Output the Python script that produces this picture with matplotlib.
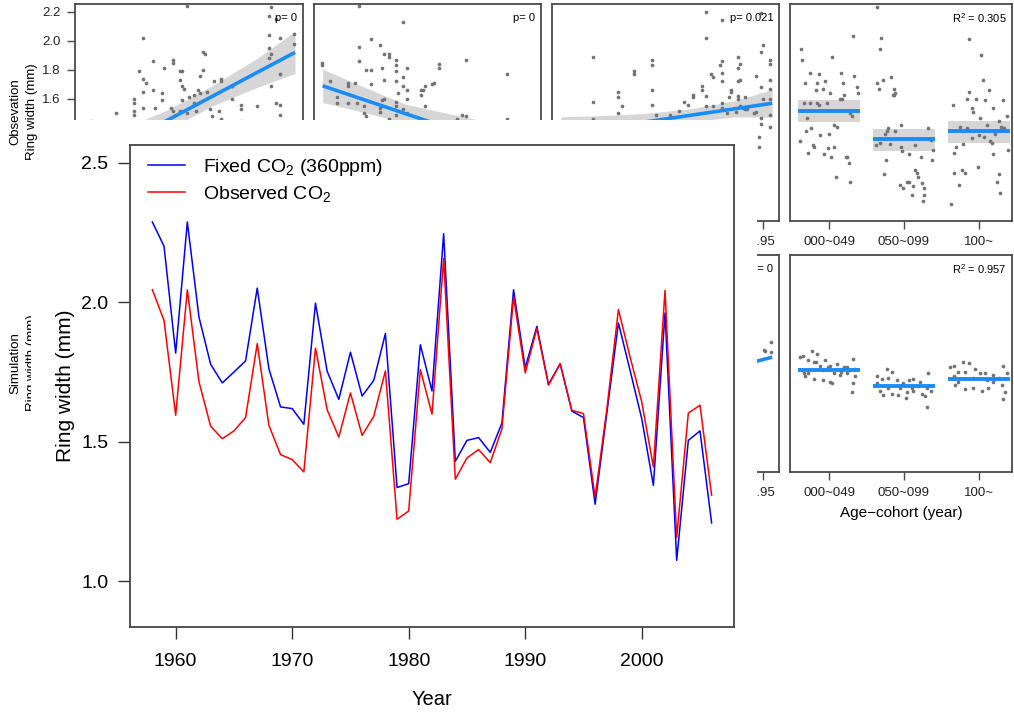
import matplotlib.pyplot as plt
from matplotlib.patches import Rectangle

plt.rcParams['font.family'] = ['Liberation Sans', 'DejaVu Sans']
plt.rcParams['mathtext.fontset'] = 'custom'
plt.rcParams['mathtext.rm'] = 'Liberation Sans'
plt.rcParams['mathtext.it'] = 'Liberation Sans:italic'

# ---- main chart data ----
years = list(range(1958, 2007))
fixed_co2 = [2.288, 2.201, 1.818, 2.288, 1.947, 1.778, 1.711, 1.750, 1.790, 2.051,
             1.762, 1.625, 1.619, 1.563, 1.997, 1.753, 1.652, 1.821, 1.664, 1.720,
             1.888, 1.336, 1.350, 1.848, 1.682, 2.246, 1.430, 1.505, 1.515, 1.462,
             1.567, 2.045, 1.765, 1.914, 1.706, 1.780, 1.610, 1.587, 1.276, 1.601,
             1.926, 1.756, 1.583, 1.344, 1.962, 1.075, 1.505, 1.539, 1.209]
observed_co2 = [2.045, 1.935, 1.595, 2.045, 1.715, 1.556, 1.511, 1.539, 1.587, 1.852,
                1.559, 1.454, 1.436, 1.392, 1.836, 1.615, 1.517, 1.675, 1.523, 1.591,
                1.754, 1.222, 1.252, 1.759, 1.599, 2.157, 1.366, 1.442, 1.472, 1.425,
                1.546, 2.019, 1.747, 1.906, 1.703, 1.780, 1.613, 1.601, 1.302, 1.615,
                1.974, 1.804, 1.643, 1.410, 2.043, 1.157, 1.603, 1.631, 1.308]

# ---- background figure data (only the parts that show) ----
p1_x = [0.49, 0.86, 0.85, 0.88, 0.96, 0.96, 0.85, 0.90, 0.30, 0.28, 0.30, 0.31, 0.30, 0.34,
        0.39, 0.43, 0.43, 0.46, 0.47, 0.46, 0.47, 0.48, 0.56, 0.57, 0.56, 0.55, 0.61, 0.64,
        0.64, 0.69, 0.73, 0.73, 0.85, 0.86, 0.90, 0.86, 0.85, 0.88, 0.90, 0.90, 0.26, 0.26,
        0.26, 0.26, 0.18, 0.30, 0.35, 0.34, 0.38, 0.38, 0.42, 0.43, 0.46, 0.49, 0.50, 0.52,
        0.53, 0.54, 0.55, 0.58, 0.59, 0.63, 0.60, 0.64, 0.69, 0.73, 0.07, 0.47, 0.52, 0.69, 0.80]
p1_y = [2.24, 2.23, 2.17, 2.15, 2.05, 1.98, 2.04, 2.02, 2.02, 1.79, 1.74, 1.71, 1.65, 1.86,
        1.81, 1.87, 1.85, 1.79, 1.79, 1.73, 1.69, 1.67, 1.92, 1.91, 1.80, 1.76, 1.72, 1.74,
        1.72, 1.69, 1.56, 1.53, 1.95, 1.91, 1.77, 1.69, 1.88, 1.57, 1.56, 1.49, 1.60, 1.57,
        1.52, 1.49, 1.50, 1.54, 1.54, 1.66, 1.64, 1.59, 1.54, 1.52, 1.52, 1.50, 1.61, 1.57,
        1.52, 1.66, 1.64, 1.65, 1.53, 1.52, 1.48, 1.46, 1.69, 1.45, 1.45, 1.59, 1.63, 1.60, 1.55]
p1_fit_x = [0.04, 0.2, 0.4, 0.6, 0.8, 0.965]
p1_fit = [1.150, 1.283, 1.449, 1.616, 1.783, 1.920]
p1_lo = [0.98, 1.17, 1.38, 1.55, 1.68, 1.775]
p1_hi = [1.32, 1.39, 1.52, 1.69, 1.88, 2.065]

p2_x = [0.20, 0.39, 0.035, 0.035, 0.20, 0.25, 0.29, 0.31, 0.33, 0.33, 0.36, 0.20, 0.23, 0.25,
        0.30, 0.36, 0.36, 0.41, 0.55, 0.55, 0.67, 0.07, 0.15, 0.15, 0.18, 0.25, 0.31, 0.36,
        0.39, 0.39, 0.41, 0.49, 0.47, 0.48, 0.52, 0.53, 0.47, 0.37, 0.31, 0.30, 0.41, 0.10,
        0.10, 0.15, 0.19, 0.22, 0.29, 0.36, 0.36, 0.49, 0.39, 0.41, 0.22, 0.23, 0.29, 0.33,
        0.36, 0.85, 0.85, 0.65, 0.67, 0.63, 0.07]
p2_y = [2.24, 2.13, 1.85, 1.83, 1.96, 2.01, 1.97, 1.91, 1.91, 1.89, 1.87, 1.86, 1.80, 1.80,
        1.81, 1.83, 1.79, 1.81, 1.84, 1.81, 1.87, 1.72, 1.71, 1.69, 1.71, 1.70, 1.73, 1.72,
        1.75, 1.69, 1.66, 1.69, 1.66, 1.66, 1.70, 1.71, 1.63, 1.64, 1.60, 1.59, 1.60, 1.61,
        1.57, 1.57, 1.57, 1.55, 1.54, 1.58, 1.55, 1.55, 1.53, 1.50, 1.50, 1.48, 1.51, 1.46,
        1.49, 1.77, 1.46, 1.49, 1.48, 1.46, 1.44]
p2_fit_x = [0.038, 0.2, 0.4, 0.6, 0.8, 0.96]
p2_fit = [1.690, 1.605, 1.500, 1.396, 1.291, 1.207]
p2_lo = [1.575, 1.515, 1.435, 1.296, 1.151, 1.027]
p2_hi = [1.805, 1.695, 1.565, 1.496, 1.431, 1.387]

p3_x = [0.68, 0.75, 0.92, 0.68, 0.18, 0.44, 0.44, 0.36, 0.36, 0.93, 0.92, 0.96, 0.96, 0.74,
        0.75, 0.82, 0.83, 0.82, 0.75, 0.70, 0.71, 0.75, 0.83, 0.82, 0.90, 0.96, 0.18, 0.29,
        0.29, 0.31, 0.44, 0.44, 0.66, 0.66, 0.68, 0.62, 0.62, 0.58, 0.60, 0.56, 0.68, 0.71,
        0.75, 0.75, 0.79, 0.79, 0.78, 0.82, 0.82, 0.85, 0.84, 0.83, 0.77, 0.81, 0.85, 0.86,
        0.89, 0.90, 0.92, 0.93, 0.96, 0.96, 0.96, 0.92, 0.92, 0.96, 0.29, 0.46, 0.52, 0.18,
        0.91, 0.91]
p3_y = [2.20, 2.14, 2.19, 2.02, 1.89, 1.87, 1.83, 1.79, 1.77, 1.97, 1.92, 1.87, 1.84, 1.83,
        1.86, 1.89, 1.84, 1.81, 1.78, 1.77, 1.75, 1.72, 1.73, 1.72, 1.76, 1.73, 1.58, 1.65,
        1.61, 1.55, 1.66, 1.56, 1.69, 1.66, 1.62, 1.63, 1.61, 1.58, 1.56, 1.52, 1.55, 1.55,
        1.54, 1.57, 1.66, 1.65, 1.61, 1.62, 1.60, 1.61, 1.54, 1.55, 1.50, 1.51, 1.53, 1.53,
        1.50, 1.51, 1.68, 1.60, 1.67, 1.60, 1.49, 1.47, 1.43, 1.41, 1.50, 1.49, 1.49, 1.46,
        1.34, 1.27]
p3_fit_x = [0.04, 0.2, 0.4, 0.6, 0.8, 0.97]
p3_fit = [1.357, 1.394, 1.439, 1.485, 1.531, 1.570]
p3_lo = [1.237, 1.304, 1.379, 1.440, 1.476, 1.475]
p3_hi = [1.477, 1.484, 1.499, 1.530, 1.586, 1.665]

sim3_x = [0.963, 0.965, 0.934, 0.938]
sim3_y = [1.655, 1.586, 1.600, 1.593]
sim3_fit_x = [0.04, 0.97]
sim3_fit = [1.169, 1.550]

cohorts = ['000~049', '050~099', '100~']
obs_age_x = [0.63, 0.64, 1.32, 1.04, 0.74, 0.87, 0.68, 0.84, 0.95, 1.16, 1.19, 1.33, 0.82, 0.92,
             1.01, 1.39, 1.37, 1.20, 1.15, 1.17, 0.67, 0.75, 0.84, 0.97, 0.86, 0.70, 1.07, 1.11,
             1.28, 1.30, 0.69, 0.76, 0.61, 0.88, 1.00, 0.80, 0.78, 0.72, 0.93, 0.98, 1.06, 1.03,
             1.22, 1.24, 1.26, 1.09, 1.28,
             1.64, 1.69, 1.68, 1.64, 1.72, 1.82, 1.67, 1.86, 1.88, 1.85, 1.87, 1.78, 1.88, 1.96,
             1.77, 1.74, 1.63, 1.68, 1.81, 1.76, 1.96, 1.97, 2.06, 2.15, 2.22, 2.32, 2.36, 2.37,
             2.38, 1.73, 1.94, 1.99, 2.04, 2.07, 2.12, 2.10, 2.15, 2.17, 2.18, 2.24, 2.27, 2.25, 2.26,
             2.87, 3.02, 3.05, 2.65, 2.86, 2.96, 3.13, 2.84, 3.08, 2.90, 2.92, 3.19, 3.27, 3.32,
             3.37, 2.75, 2.84, 3.01, 3.10, 3.21, 3.29, 2.69, 2.66, 2.79, 2.90, 3.00, 3.06, 3.14,
             3.17, 3.33, 3.39, 3.18, 2.66, 2.77, 2.81, 2.99, 2.73, 3.26, 3.24, 3.28, 2.62]
obs_age_y = [1.94, 1.87, 2.03, 1.89, 1.78, 1.77, 1.71, 1.71, 1.72, 1.78, 1.71, 1.76, 1.66, 1.67,
             1.64, 1.64, 1.68, 1.63, 1.60, 1.60, 1.57, 1.57, 1.57, 1.57, 1.56, 1.47, 1.42, 1.41,
             1.50, 1.48, 1.38, 1.40, 1.31, 1.35, 1.36, 1.27, 1.28, 1.23, 1.22, 1.26, 1.27, 1.20,
             1.20, 1.20, 1.16, 1.06, 1.03,
             2.23, 2.02, 1.94, 1.71, 1.73, 1.75, 1.67, 1.67, 1.64, 1.63, 1.63, 1.40, 1.38, 1.42,
             1.38, 1.36, 1.28, 1.30, 1.29, 1.18, 1.27, 1.24, 1.22, 1.28, 1.20, 1.40, 1.32, 1.18,
             1.25, 1.08, 1.01, 0.99, 1.03, 1.03, 1.00, 0.94, 1.11, 1.09, 1.06, 1.02, 0.99, 0.90, 0.94,
             2.01, 1.90, 1.73, 1.56, 1.65, 1.60, 1.66, 1.60, 1.59, 1.54, 1.51, 1.54, 1.45, 1.59,
             1.48, 1.41, 1.40, 1.47, 1.42, 1.36, 1.41, 1.27, 1.23, 1.29, 1.33, 1.35, 1.34, 1.31,
             1.30, 1.40, 1.25, 1.22, 1.09, 1.11, 1.09, 1.13, 1.01, 1.08, 1.03, 0.95, 0.88]
obs_age_mean = [1.515, 1.322, 1.377]
obs_age_lo = [1.44, 1.245, 1.30]
obs_age_hi = [1.59, 1.39, 1.45]

sim_age_x = [0.61, 0.65, 0.72, 0.77, 0.80, 0.84, 0.82, 0.95, 0.98, 1.01, 0.88, 0.72, 0.68, 0.80,
             0.92, 1.01, 1.10, 1.16, 1.20, 1.24, 1.28, 1.32, 1.35, 1.32, 1.30, 1.15, 1.06, 0.64,
             0.66, 1.04, 1.24, 0.92, 1.35,
             1.64, 1.77, 1.84, 1.70, 1.79, 1.90, 1.99, 2.06, 2.12, 2.21, 2.32, 2.36, 2.30, 1.68,
             1.72, 1.84, 1.92, 2.03, 2.12, 2.24, 2.28, 1.64, 1.95, 2.10, 2.19, 2.30, 1.79, 2.04,
             2.61, 2.66, 2.78, 2.86, 2.72, 2.81, 2.95, 3.01, 3.08, 3.19, 3.26, 3.32, 3.37, 2.68,
             2.72, 2.81, 2.92, 3.04, 3.12, 3.19, 3.30, 3.35, 3.32, 2.66, 2.92, 3.10, 3.21]
sim_age_y = [1.55, 1.56, 1.53, 1.59, 1.52, 1.57, 1.52, 1.53, 1.48, 1.49, 1.49, 1.44, 1.42, 1.40,
             1.39, 1.38, 1.50, 1.45, 1.48, 1.44, 1.46, 1.54, 1.42, 1.37, 1.31, 1.43, 1.44, 1.46,
             1.44, 1.37, 1.48, 1.46, 1.47,
             1.42, 1.47, 1.45, 1.40, 1.41, 1.39, 1.37, 1.39, 1.40, 1.38, 1.44, 1.32, 1.21, 1.32,
             1.29, 1.30, 1.29, 1.27, 1.32, 1.30, 1.28, 1.37, 1.34, 1.34, 1.35, 1.34, 1.34, 1.31,
             1.48, 1.49, 1.52, 1.51, 1.45, 1.45, 1.47, 1.44, 1.44, 1.43, 1.41, 1.49, 1.44, 1.36,
             1.38, 1.33, 1.34, 1.32, 1.34, 1.38, 1.36, 1.31, 1.26, 1.42, 1.41, 1.39, 1.40]
sim_age_mean = [1.46, 1.35, 1.40]

W, H = 1014, 717
PANEL_BLUE = '#1A8CF5'
BAND = '#D6D6D6'
DOT = '#737373'
EDGE = '#4A4A4A'


def box(x0, y0, x1, y1):
    return [x0 / W, 1 - y1 / H, (x1 - x0) / W, (y1 - y0) / H]


def style_panel(ax, xlim):
    ax.set_xlim(*xlim)
    ax.set_ylim(0.76, 2.253)
    for s in ax.spines.values():
        s.set_color(EDGE)
        s.set_linewidth(1.3)
    ax.tick_params(direction='out', length=5.5, width=1, color=EDGE, labelsize=9.5,
                   labelcolor='#222222', pad=5)
    ax.set_yticks([])
    ax.set_xticks([])


fig = plt.figure(figsize=(W / 100, H / 100), dpi=100)

cols = [(75, 303), (314, 541), (552, 779), (790, 1012)]
rows = [(4, 221), (255, 472)]
ax = {}
for r, (y0, y1) in enumerate(rows):
    for c, (x0, x1) in enumerate(cols):
        a = fig.add_axes(box(x0, y0, x1, y1))
        style_panel(a, (0.48, 3.44) if c == 3 else (0, 1))
        ax[r, c] = a

# observation row: climate-response panels
for a, xs, ys, fx, fy, lo, hi, lab in [
        (ax[0, 0], p1_x, p1_y, p1_fit_x, p1_fit, p1_lo, p1_hi, 'p= 0'),
        (ax[0, 1], p2_x, p2_y, p2_fit_x, p2_fit, p2_lo, p2_hi, 'p= 0'),
        (ax[0, 2], p3_x, p3_y, p3_fit_x, p3_fit, p3_lo, p3_hi, 'p= 0.021')]:
    a.fill_between(fx, lo, hi, color=BAND, lw=0)
    a.scatter(xs, ys, s=7, color=DOT, lw=0)
    a.plot(fx, fy, color=PANEL_BLUE, lw=2.6, solid_capstyle='butt')
    a.text(0.975, 0.935, lab, transform=a.transAxes, ha='right', va='center', fontsize=8)

ax[0, 0].set_yticks([1.6, 1.8, 2.0, 2.2])
ax[0, 0].set_yticklabels(['1.6', '1.8', '2.0', '2.2'])

# simulation row, panel 3 (mostly hidden)
ax[1, 2].scatter(sim3_x, sim3_y, s=7, color=DOT, lw=0)
ax[1, 2].plot(sim3_fit_x, sim3_fit, color=PANEL_BLUE, lw=2.6, solid_capstyle='butt')
ax[1, 2].text(0.975, 0.935, 'p= 0', transform=ax[1, 2].transAxes, ha='right', va='center', fontsize=8)
for r in (0, 1):
    ax[r, 2].set_xticks([0.928])
    ax[r, 2].set_xticklabels(['0.95'])

# age-cohort panels
a = ax[0, 3]
for i in range(3):
    a.fill_between([i + 1 - 0.41, i + 1 + 0.41], obs_age_lo[i], obs_age_hi[i], color=BAND, lw=0)
a.scatter(obs_age_x, obs_age_y, s=7, color=DOT, lw=0)
for i in range(3):
    a.plot([i + 1 - 0.41, i + 1 + 0.41], [obs_age_mean[i]] * 2, color=PANEL_BLUE, lw=2.8,
           solid_capstyle='butt')
a.text(0.975, 0.935, r'R$^2$ = 0.305', transform=a.transAxes, ha='right', va='center', fontsize=8)

a = ax[1, 3]
a.scatter(sim_age_x, sim_age_y, s=7, color=DOT, lw=0)
for i in range(3):
    a.plot([i + 1 - 0.41, i + 1 + 0.41], [sim_age_mean[i]] * 2, color=PANEL_BLUE, lw=2.8,
           solid_capstyle='butt')
a.text(0.975, 0.935, r'R$^2$ = 0.957', transform=a.transAxes, ha='right', va='center', fontsize=8)
a.set_xlabel('Age\u2212cohort (year)', fontsize=11, labelpad=5)

for r in (0, 1):
    ax[r, 3].set_xticks([1, 2, 3])
    ax[r, 3].set_xticklabels(cohorts)

fig.text(15 / W, 1 - 112 / H, 'Obsevation', rotation=90, ha='center', va='center', fontsize=9.5)
fig.text(32 / W, 1 - 112 / H, 'Ring width (mm)', rotation=90, ha='center', va='center', fontsize=9.5)
fig.text(15 / W, 1 - 363 / H, 'Simulation', rotation=90, ha='center', va='center', fontsize=9.5)
fig.text(32 / W, 1 - 363 / H, 'Ring width (mm)', rotation=90, ha='center', va='center', fontsize=9.5)

# white sheet of the overlaid chart
fig.add_artist(Rectangle((44 / W, 0), (757 - 44) / W, 1 - 120 / H, transform=fig.transFigure,
                         facecolor='white', edgecolor='none', zorder=5))
fig.add_artist(Rectangle((31 / W, 0), (757 - 31) / W, 1 - 157 / H, transform=fig.transFigure,
                         facecolor='white', edgecolor='none', zorder=5))

# ---- main chart ----
m = fig.add_axes(box(130, 145, 734, 627), zorder=10)
m.plot(years, fixed_co2, color='#0000FF', lw=1.1, label='Fixed CO$_2$ (360ppm)')
m.plot(years, observed_co2, color='#FF0000', lw=1.1, label='Observed CO$_2$')
m.set_xlim(1956.08, 2007.92)
m.set_ylim(0.836, 2.564)
m.set_xticks([1960, 1970, 1980, 1990, 2000])
m.set_yticks([1.0, 1.5, 2.0, 2.5])
m.tick_params(direction='out', length=8.5, width=1, color='#333333', labelsize=14, pad=7)
m.tick_params(axis='x', pad=10)
for s in m.spines.values():
    s.set_color('#444444')
    s.set_linewidth(1.3)
m.text(-0.1076, 0.5, 'Ring width (mm)', transform=m.transAxes, rotation=90,
       ha='center', va='center', fontsize=15)
m.text(0.5, -0.151, 'Year', transform=m.transAxes, ha='center', va='center', fontsize=14.5)
m.legend(loc='upper left', bbox_to_anchor=(0.0298, 0.975), frameon=False, fontsize=14,
         handlelength=1.9, handletextpad=0.95, labelspacing=0.3, borderaxespad=0, borderpad=0)

fig.savefig('out.png', dpi=100)
